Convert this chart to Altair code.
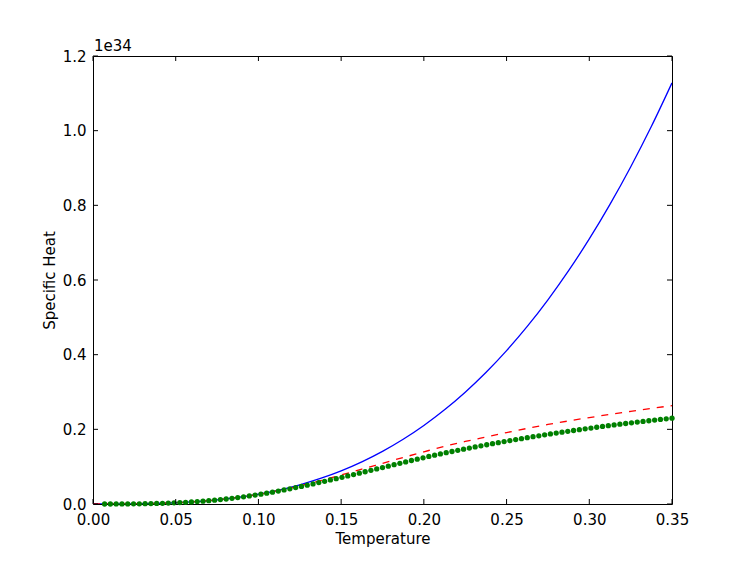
import altair as alt
import pandas as pd

# Green dotted series (sampled temperatures and specific heat, units of 1e34)
temps_green = [
    0.0070, 0.0105, 0.0140, 0.0175, 0.0210, 0.0245, 0.0280, 0.0315, 0.0350, 0.0385,
    0.0420, 0.0455, 0.0490, 0.0525, 0.0560, 0.0595, 0.0630, 0.0665, 0.0700, 0.0735,
    0.0770, 0.0805, 0.0840, 0.0875, 0.0910, 0.0945, 0.0980, 0.1015, 0.1050, 0.1085,
    0.1120, 0.1155, 0.1190, 0.1225, 0.1260, 0.1295, 0.1330, 0.1365, 0.1400, 0.1435,
    0.1470, 0.1505, 0.1540, 0.1575, 0.1610, 0.1645, 0.1680, 0.1715, 0.1750, 0.1785,
    0.1820, 0.1855, 0.1890, 0.1925, 0.1960, 0.1995, 0.2030, 0.2065, 0.2100, 0.2135,
    0.2170, 0.2205, 0.2240, 0.2275, 0.2310, 0.2345, 0.2380, 0.2415, 0.2450, 0.2485,
    0.2520, 0.2555, 0.2590, 0.2625, 0.2660, 0.2695, 0.2730, 0.2765, 0.2800, 0.2835,
    0.2870, 0.2905, 0.2940, 0.2975, 0.3010, 0.3045, 0.3080, 0.3115, 0.3150, 0.3185,
    0.3220, 0.3255, 0.3290, 0.3325, 0.3360, 0.3395, 0.3430, 0.3465, 0.3500,
]
heat_green = [
    0.0000, 0.0000, 0.0001, 0.0001, 0.0002, 0.0004, 0.0006, 0.0008, 0.0011, 0.0015,
    0.0019, 0.0025, 0.0031, 0.0038, 0.0046, 0.0055, 0.0065, 0.0077, 0.0089, 0.0103,
    0.0118, 0.0134, 0.0152, 0.0172, 0.0193, 0.0215, 0.0238, 0.0263, 0.0290, 0.0317,
    0.0346, 0.0376, 0.0407, 0.0439, 0.0472, 0.0505, 0.0538, 0.0573, 0.0608, 0.0644,
    0.0679, 0.0715, 0.0752, 0.0789, 0.0826, 0.0864, 0.0902, 0.0939, 0.0976, 0.1014,
    0.1052, 0.1090, 0.1128, 0.1165, 0.1202, 0.1238, 0.1273, 0.1307, 0.1341, 0.1374,
    0.1406, 0.1438, 0.1469, 0.1499, 0.1529, 0.1558, 0.1587, 0.1615, 0.1643, 0.1671,
    0.1698, 0.1725, 0.1751, 0.1777, 0.1802, 0.1827, 0.1852, 0.1876, 0.1900, 0.1923,
    0.1946, 0.1969, 0.1991, 0.2013, 0.2035, 0.2056, 0.2077, 0.2097, 0.2117, 0.2137,
    0.2156, 0.2175, 0.2194, 0.2212, 0.2230, 0.2248, 0.2265, 0.2282, 0.2299,
]

# Solid blue and dashed red curves
temps_curve = [
    0.0, 0.0125, 0.025, 0.0375, 0.05, 0.0625, 0.075, 0.0875, 0.10, 0.1125,
    0.125, 0.1375, 0.15, 0.1625, 0.175, 0.1875, 0.20, 0.2125, 0.225, 0.2375,
    0.25, 0.2625, 0.275, 0.2875, 0.30, 0.3125, 0.325, 0.3375, 0.35,
]
heat_blue = [
    0.0, 0.00005, 0.0004, 0.0014, 0.0033, 0.0064, 0.0111, 0.0176, 0.0263, 0.0374,
    0.0514, 0.0684, 0.0888, 0.1129, 0.1410, 0.1734, 0.2104, 0.2524, 0.2996, 0.3523,
    0.4110, 0.4757, 0.5470, 0.6250, 0.7100, 0.8026, 0.9028, 1.0110, 1.1280,
]
heat_red = [
    0.0, 0.00005, 0.0004, 0.0014, 0.0033, 0.0064, 0.0111, 0.0175, 0.0258, 0.0362,
    0.0485, 0.0625, 0.0777, 0.0935, 0.1090, 0.1245, 0.1397, 0.1545, 0.1675, 0.1795,
    0.1913, 0.2025, 0.2130, 0.2225, 0.2315, 0.2400, 0.2480, 0.2560, 0.2635,
]

x_ticks = [0.0, 0.05, 0.10, 0.15, 0.20, 0.25, 0.30, 0.35]
y_ticks = [0.0, 0.2, 0.4, 0.6, 0.8, 1.0, 1.2]

W, H = 579, 448
FONT = "DejaVu Sans"
FS = 15
TICK = 5

xs = alt.Scale(domain=[0, 0.35], nice=False, zero=False)
ys = alt.Scale(domain=[0, 1.2], nice=False, zero=False)

x_axis = alt.Axis(values=x_ticks, format=".2f", title="Temperature", ticks=False, tickSize=0,
                  labelPadding=8, grid=False, domain=False, labelFont=FONT, labelFontSize=FS,
                  titleFont=FONT, titleFontSize=FS, titleFontWeight="normal", titlePadding=4,
                  labelColor="black", titleColor="black", labelFlush=False)
y_axis = alt.Axis(values=y_ticks, format=".1f", title="Specific Heat", ticks=False, tickSize=0,
                  labelPadding=7, grid=False, domain=False, labelFont=FONT, labelFontSize=FS,
                  titleFont=FONT, titleFontSize=FS, titleFontWeight="normal", titlePadding=5,
                  labelColor="black", titleColor="black", labelFlush=False)

X = alt.X("T:Q", scale=xs, axis=x_axis)
Y = alt.Y("C:Q", scale=ys, axis=y_axis)

df_blue = pd.DataFrame({"T": temps_curve, "C": heat_blue})
df_red = pd.DataFrame({"T": temps_curve, "C": heat_red})
df_green = pd.DataFrame({"T": temps_green, "C": heat_green})
df_xt = pd.DataFrame({"T": x_ticks})
df_yt = pd.DataFrame({"C": y_ticks})

blue = alt.Chart(df_blue).mark_line(color="#0000ff", strokeWidth=1.3, interpolate="monotone", clip=True).encode(x=X, y=Y)
red = alt.Chart(df_red).mark_line(color="#ff0000", strokeWidth=1.3, strokeDash=[7, 7], interpolate="monotone", clip=True).encode(x=X, y=Y)
green = alt.Chart(df_green).mark_circle(color="#008000", size=28, opacity=1).encode(x=X, y=Y)

tick_style = dict(color="black", strokeWidth=1)
xt_bottom = alt.Chart(df_xt).mark_rule(**tick_style).encode(x=X, y=alt.value(H), y2=alt.value(H - TICK))
xt_top = alt.Chart(df_xt).mark_rule(**tick_style).encode(x=X, y=alt.value(0), y2=alt.value(TICK))
yt_left = alt.Chart(df_yt).mark_rule(**tick_style).encode(y=Y, x=alt.value(0), x2=alt.value(TICK))
yt_right = alt.Chart(df_yt).mark_rule(**tick_style).encode(y=Y, x=alt.value(W), x2=alt.value(W - TICK))

exp_text = alt.Chart(pd.DataFrame({"t": ["1e34"]})).mark_text(
    align="left", baseline="bottom", font=FONT, fontSize=FS, color="black"
).encode(x=alt.value(1), y=alt.value(-2), text="t:N")

chart = alt.layer(
    blue, red, green, xt_bottom, xt_top, yt_left, yt_right, exp_text
).properties(
    width=W, height=H,
    autosize=alt.AutoSizeParams(type="none"),
    padding={"left": 85, "top": 48, "right": 60, "bottom": 50},
).configure(
    background="white"
).configure_view(
    stroke="black", strokeWidth=1
)

chart.save("out.html", embed_options={"renderer": "svg", "actions": False})
